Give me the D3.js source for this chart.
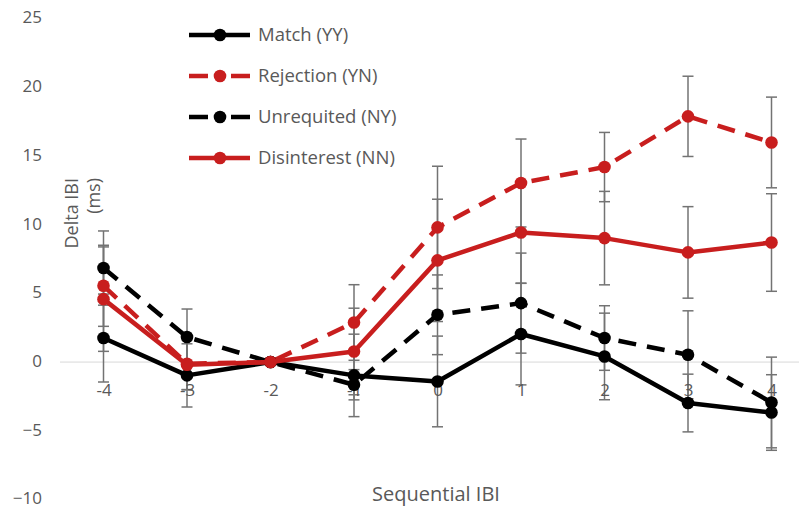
<!DOCTYPE html>
<html>
<head>
<meta charset="utf-8">
<script src="https://cdn.jsdelivr.net/npm/d3@7"></script>
<style>
  body { margin: 0; background: #fff; }
  text { font-family: "Open Sans", sans-serif; fill: #595959; }
</style>
</head>
<body>
<script>
// values
const categories = [-4, -3, -2, -1, 0, 1, 2, 3, 4];
const seriesNames = ["Match (YY)", "Rejection (YN)", "Unrequited (NY)", "Disinterest (NN)"];
const matchYY = [1.75, -0.97, 0, -0.97, -1.41, 2.04, 0.41, -2.98, -3.67];
const rejectionYN = [5.55, -0.12, 0, 2.88, 9.8, 13.03, 14.19, 17.88, 15.98];
const unrequitedNY = [6.84, 1.82, 0, -1.65, 3.44, 4.29, 1.75, 0.53, -2.94];
const disinterestNN = [4.58, -0.2, 0, 0.77, 7.4, 9.43, 9.02, 7.98, 8.7];
const errYY = [3.2, 2.3, 0, 3.0, 3.3, 3.7, 3.15, 2.1, 2.75];
const errYN = [2.95, 1.9, 0, 2.75, 4.45, 3.2, 2.52, 2.92, 3.3];
const errNY = [2.7, 2.04, 0, 1.1, 2.9, 3.64, 2.35, 3.2, 3.3];
const errNN = [3.8, 1.8, 0, 3.15, 4.45, 3.7, 3.4, 3.33, 3.55];
const yTicks = [-10, -5, 0, 5, 10, 15, 20, 25];

const red = "#c81e1e";
const series = [
  { name: seriesNames[0], values: matchYY, err: errYY, color: "#000", dash: null },
  { name: seriesNames[1], values: rejectionYN, err: errYN, color: red, dash: "18,11" },
  { name: seriesNames[2], values: unrequitedNY, err: errNY, color: "#000", dash: "18,11" },
  { name: seriesNames[3], values: disinterestNN, err: errNN, color: red, dash: null }
];

const width = 799, height = 507;
const svg = d3.select("body").append("svg")
    .attr("width", width)
    .attr("height", height);

const x = d3.scalePoint().domain(categories).range([103.5, 771.5]);
const y = d3.scaleLinear().domain([-10, 25]).range([499.5, 18.5]);

// y labels
svg.append("g")
    .attr("transform", "translate(42,-1)")
    .call(d3.axisLeft(y).tickValues(yTicks).tickSize(0).tickPadding(0))
    .call(g => g.select(".domain").remove())
    .selectAll("text")
    .style("font-family", "'Open Sans', sans-serif")
    .style("font-size", "17px")
    .attr("fill", "#595959");

// zero line
svg.append("line")
    .attr("x1", 60).attr("x2", width)
    .attr("y1", y(0)).attr("y2", y(0))
    .attr("stroke", "#d9d9d9")
    .attr("stroke-width", 1);

// error bars
series.forEach(s => {
  const eb = svg.append("g")
      .attr("stroke", "#737373")
      .attr("stroke-width", 1.5);
  categories.forEach((c, i) => {
    if (!s.err[i]) return;
    const cx = x(c), hi = y(s.values[i] + s.err[i]), lo = y(s.values[i] - s.err[i]);
    eb.append("line").attr("x1", cx).attr("x2", cx).attr("y1", hi).attr("y2", lo);
    eb.append("line").attr("x1", cx - 5.5).attr("x2", cx + 5.5).attr("y1", hi).attr("y2", hi);
    eb.append("line").attr("x1", cx - 5.5).attr("x2", cx + 5.5).attr("y1", lo).attr("y2", lo);
  });
});

// x labels just under the zero line
svg.append("g")
    .attr("transform", `translate(0,${y(0)})`)
    .call(d3.axisBottom(x).tickSize(0).tickPadding(22))
    .call(g => g.select(".domain").remove())
    .selectAll("text")
    .style("font-family", "'Open Sans', sans-serif")
    .style("font-size", "17px")
    .attr("fill", "#595959");

const line = d3.line()
    .x((d, i) => x(categories[i]))
    .y(d => y(d));

series.forEach(s => {
  svg.append("path")
      .datum(s.values)
      .attr("fill", "none")
      .attr("stroke", s.color)
      .attr("stroke-width", 4.5)
      .attr("stroke-dasharray", s.dash)
      .attr("stroke-linejoin", "round")
      .attr("d", line);
  svg.append("g").selectAll("circle")
      .data(s.values)
      .enter().append("circle")
      .attr("cx", (d, i) => x(categories[i]))
      .attr("cy", d => y(d))
      .attr("r", 6.3)
      .attr("fill", s.color);
});

// legend
const legend = svg.append("g");
series.forEach((s, i) => {
  const ly = 35 + i * 41;
  legend.append("line")
      .attr("x1", 189).attr("x2", 250)
      .attr("y1", ly).attr("y2", ly)
      .attr("stroke", s.color)
      .attr("stroke-width", 4.5)
      .attr("stroke-dasharray", s.dash ? "19,23" : null);
  legend.append("circle")
      .attr("cx", 220).attr("cy", ly).attr("r", 6.3)
      .attr("fill", s.color);
  legend.append("text")
      .attr("x", 258).attr("y", ly)
      .attr("dy", "0.35em")
      .style("font-size", "18.5px")
      .text(s.name);
});

// axis titles
const yTitle = svg.append("text")
    .attr("transform", "translate(78,178) rotate(-90)")
    .attr("text-anchor", "end")
    .style("font-size", "18px");
yTitle.append("tspan").attr("x", 0).attr("dy", 0).text("Delta IBI");
yTitle.append("tspan").attr("x", 0).attr("dy", "1.2em").text("(ms)");

svg.append("text")
    .attr("x", 436).attr("y", 501)
    .attr("text-anchor", "middle")
    .style("font-size", "20px")
    .text("Sequential IBI");
</script>
</body>
</html>
